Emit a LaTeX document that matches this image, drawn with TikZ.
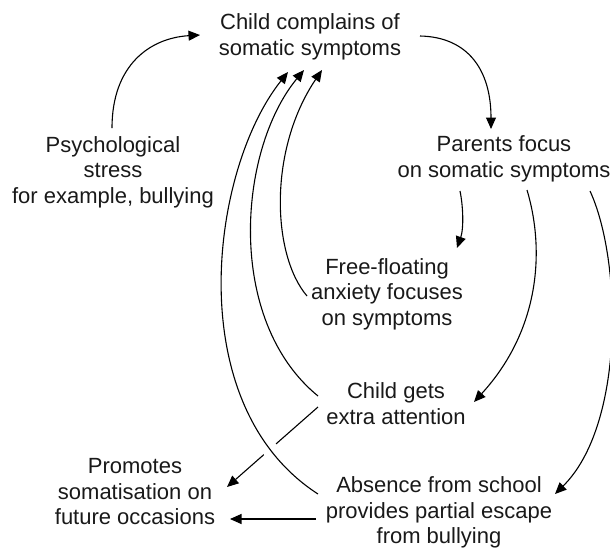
\documentclass[tikz,border=0pt]{standalone}
\usepackage{fontspec}
\setmainfont{Liberation Sans}
\usetikzlibrary{arrows.meta}
\begin{document}
\begin{tikzpicture}[x=1pt,y=-1pt,
  txt/.style={align=center, inner sep=0pt, text=black!90,
    font=\fontsize{22}{25.5}\selectfont},
  link/.style={line width=1.1pt, -{Triangle[length=11.5pt,width=10pt]}},
  halo/.style={white, line width=16pt},
]
\useasboundingbox (0,0) rectangle (610,547);

% statements of the cycle
\node[txt] (cc) at (310,37.4)  {\strut Child complains of\\\strut somatic symptoms};
\node[txt] (pf) at (504,159.4) {\strut Parents focus\\\strut on somatic symptoms};
\node[txt] (ps) at (113,172.4) {\strut Psychological\\\strut stress\\\strut for example, bullying};
\node[txt] (ff) at (387,294.4) {\strut Free-floating\\\strut anxiety focuses\\\strut on symptoms};
\node[txt] (cg) at (396,406.4) {\strut Child gets\\\strut extra attention};
\node[txt] (pr) at (135,493.9) {\strut Promotes\\\strut somatisation on\\\strut future occasions};
\node[txt] (ab) at (439,512.9) {\strut Absence from school\\\strut provides partial escape\\\strut from bullying};

% stress starts the complaint
\draw[link] ([shift={(-1,-44.4)}]ps.center) .. controls +(0,-63) and +(-50,3) .. ([shift={(-110,-2.4)}]cc.center);
% complaint -> parents
\draw[link] ([shift={(110,-1.4)}]cc.center) .. controls +(48,1) and +(0,-59) .. ([shift={(-13,-30.4)}]pf.center);
% parents -> anxiety, attention, absence
\draw[link] ([shift={(-44,31.6)}]pf.center) .. controls +(3,14) and +(7,-20) .. ([shift={(70,-46.4)}]ff.center);
\draw[link] ([shift={(23,30.6)}]pf.center) .. controls +(18,60) and +(66,-72) .. ([shift={(78,-4.4)}]cg.center);
\draw[link] ([shift={(86,31.6)}]pf.center) .. controls +(32,69) and +(70,-69) .. ([shift={(116,-18.9)}]ab.center);

% feedback into the complaint
\draw[link] ([shift={(-80,1.6)}]ff.center) .. controls +(-35,-41) and +(-54,80) .. ([shift={(12,32.6)}]cc.center);
\draw[link] ([shift={(-78,-10.4)}]cg.center) .. controls +(-93,-76) and +(-66,80) .. ([shift={(-6,32.6)}]cc.center);

% consequences
\draw[link] ([shift={(-78,0.6)}]cg.center) -- ([shift={(92,-6.9)}]pr.center);
\draw[link] ([shift={(-123,6.1)}]ab.center) -- ([shift={(95,25.1)}]pr.center);

% gap where the long loop passes over the attention line
\begin{scope}
  \clip (255,435) rectangle (287,467);
  \draw[halo] ([shift={(-121,-18.9)}]ab.center) .. controls +(-138,-89) and +(-78,98) .. ([shift={(-22,34.6)}]cc.center);
\end{scope}
\draw[link] ([shift={(-121,-18.9)}]ab.center) .. controls +(-138,-89) and +(-78,98) .. ([shift={(-22,34.6)}]cc.center);
\end{tikzpicture}
\end{document}
